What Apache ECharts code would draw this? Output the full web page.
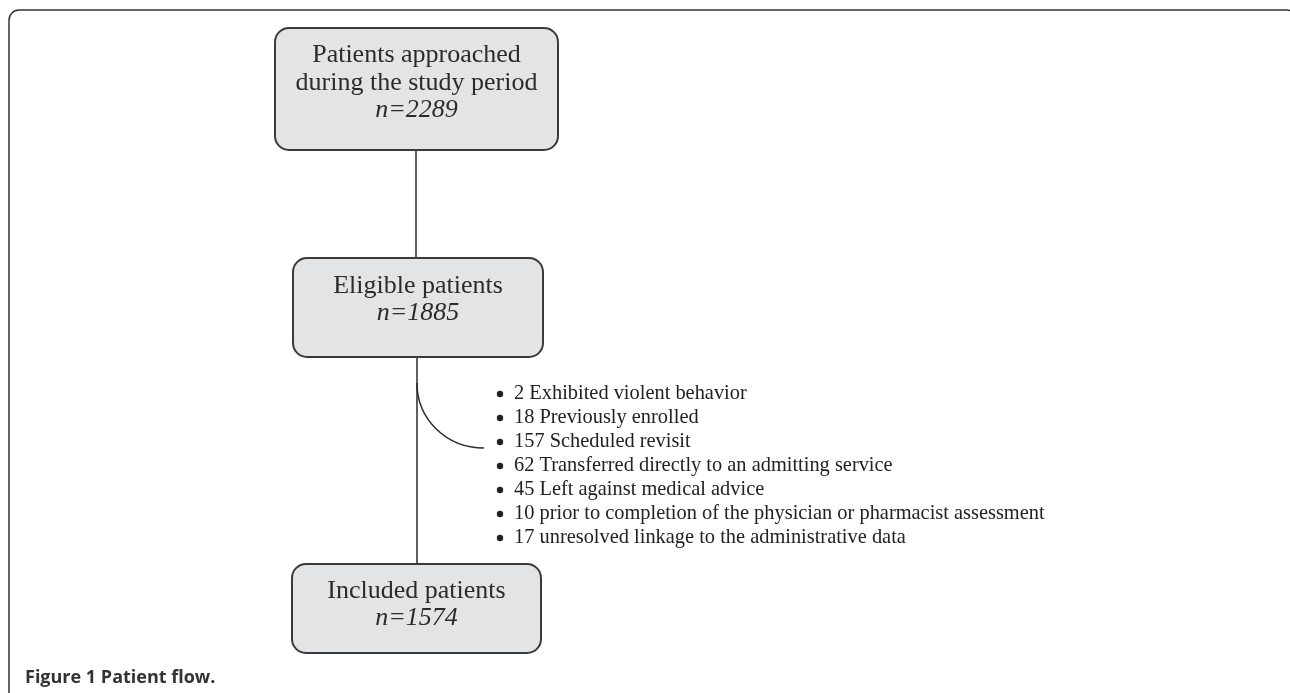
<!DOCTYPE html>
<html>
<head>
<meta charset="utf-8">
<script src="https://cdn.jsdelivr.net/npm/echarts@6/dist/echarts.min.js"></script>
<style>
  html, body { margin: 0; padding: 0; background: #fff; }
  #chart { width: 1290px; height: 693px; }
</style>
</head>
<body>
<div id="chart"></div>
<script>
// flow steps and their counts
const stepTitles = [['Patients approached', 'during the study period'], ['Eligible patients'], ['Included patients']];
const stepCounts = [2289, 1885, 1574];
// exclusions between eligible and included
const exclusionCounts = [2, 18, 157, 62, 45, 10, 17];
const exclusionReasons = [
  'Exhibited violent behavior',
  'Previously enrolled',
  'Scheduled revisit',
  'Transferred directly to an admitting service',
  'Left against medical advice',
  'prior to completion of the physician or pharmacist assessment',
  'unresolved linkage to the administrative data'
];
const captionLabel = 'Figure 1';
const captionText = 'Patient flow.';

// layout (pixels)
const boxes = [
  { x: 275, y: 28, w: 283, h: 122, textTop: 55 },
  { x: 293, y: 258, w: 250, h: 99, textTop: 286 },
  { x: 292, y: 564, w: 249, h: 89, textTop: 591 }
];
const serif = '"Liberation Serif", "DejaVu Serif", serif';
const ink = '#2b2b2b';

const chart = echarts.init(document.getElementById('chart'));
const elements = [];

// outer frame
elements.push({
  type: 'rect', shape: { x: 9, y: 10, width: 1288, height: 720, r: 10 },
  style: { fill: 'none', stroke: '#333', lineWidth: 1.5 }
});

boxes.forEach((b, i) => {
  const cx = b.x + b.w / 2;
  elements.push({
    type: 'rect', shape: { x: b.x, y: b.y, width: b.w, height: b.h, r: 14 },
    style: { fill: '#e3e4e6', stroke: '#3a3a3a', lineWidth: 2 }, z: 2
  });
  const lines = stepTitles[i];
  lines.forEach((t, k) => {
    elements.push({
      type: 'text', z: 3,
      style: { text: t, x: cx, y: b.textTop + k * 28, align: 'center', verticalAlign: 'middle',
        fontFamily: serif, fontSize: 26, fill: ink }
    });
  });
  elements.push({
    type: 'text', z: 3,
    style: { text: 'n=' + stepCounts[i], x: cx, y: b.textTop + lines.length * 28 - 1, align: 'center',
      verticalAlign: 'middle', fontFamily: serif, fontStyle: 'italic', fontSize: 26, fill: ink }
  });
});

// connectors
const spineX = 417;
elements.push({ type: 'line', shape: { x1: 416, y1: 150, x2: 416, y2: 258 }, style: { stroke: ink, lineWidth: 1.5 } });
elements.push({ type: 'line', shape: { x1: spineX, y1: 357, x2: spineX, y2: 564 }, style: { stroke: ink, lineWidth: 1.5 } });
elements.push({
  type: 'bezierCurve',
  shape: { x1: spineX, y1: 383, cpx1: spineX, cpy1: 419, cpx2: 446, cpy2: 448, x2: 484, y2: 448 },
  style: { stroke: ink, lineWidth: 1.5, fill: 'none' }
});

// exclusion list
exclusionReasons.forEach((r, i) => {
  const y = 393 + i * 24;
  elements.push({ type: 'circle', shape: { cx: 500, cy: y + 1, r: 3.2 }, style: { fill: '#222' } });
  elements.push({
    type: 'text',
    style: { text: exclusionCounts[i] + ' ' + r, x: 514, y: y + 1, verticalAlign: 'middle',
      fontFamily: serif, fontSize: 20.4, fill: '#222' }
  });
});

// caption
elements.push({
  type: 'text',
  style: { text: captionLabel + ' ' + captionText, x: 25, y: 678, verticalAlign: 'middle',
    fontFamily: '"Open Sans", sans-serif', fontWeight: 'bold', fontSize: 18, fill: '#333' }
});

chart.setOption({ animation: false, graphic: { elements: elements } });
</script>
</body>
</html>
